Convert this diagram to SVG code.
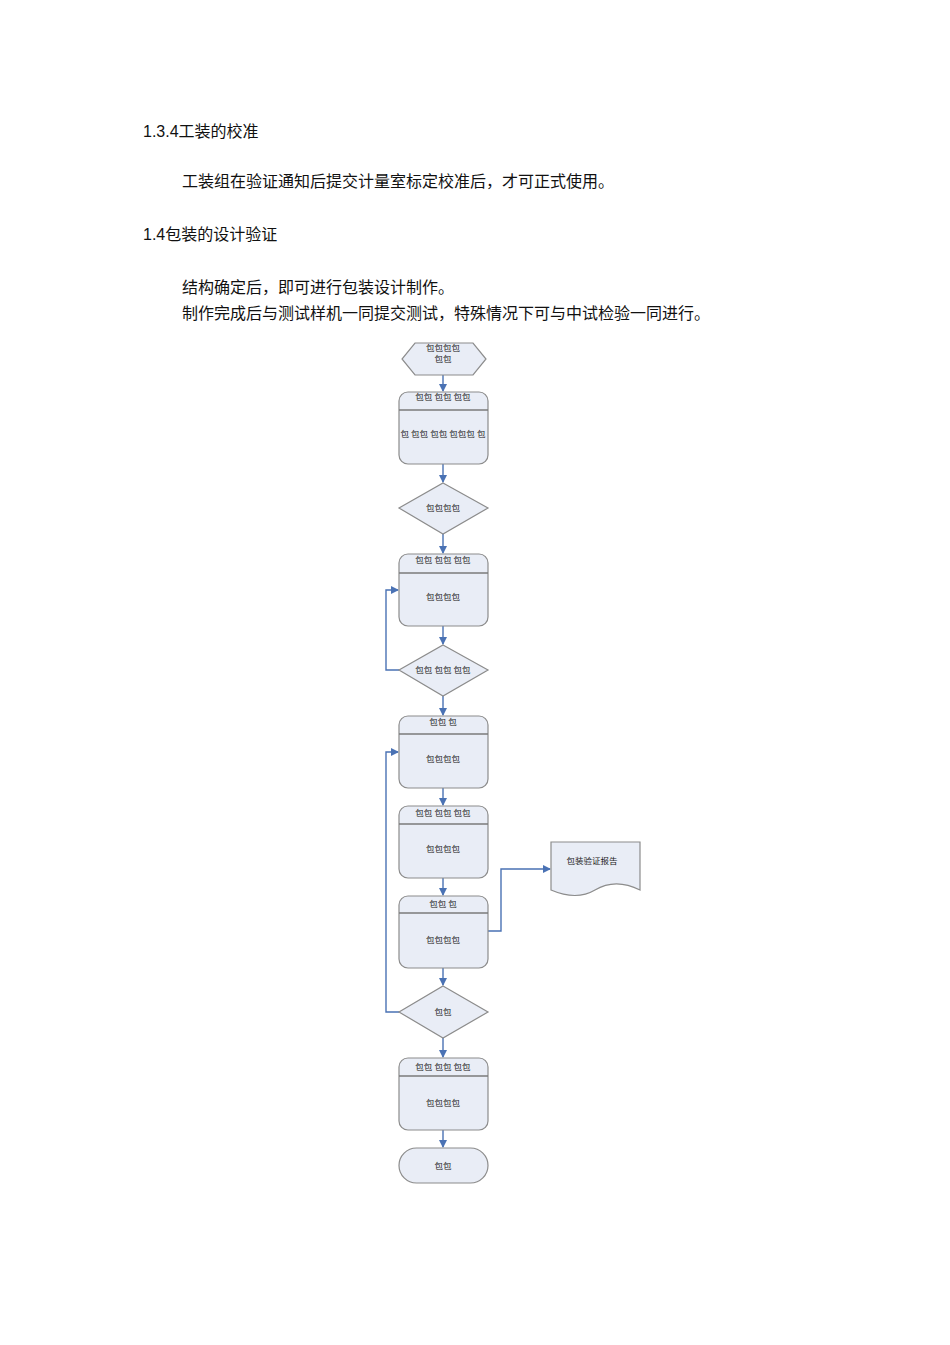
<svg xmlns="http://www.w3.org/2000/svg" width="950" height="1345" viewBox="0 0 950 1345">
<style>
.t{font-family:"Liberation Sans","Noto Sans CJK SC",sans-serif;font-size:16px;fill:#111}
.s{font-family:"Liberation Serif","Noto Sans CJK SC",serif;font-size:8.5px;fill:#222;text-anchor:middle}
.n{fill:#e9edf6;stroke:#8c8c8c;stroke-width:1.2}
.l{stroke:#7a7a7a;stroke-width:1.5}
.c{fill:none;stroke:#4a72b4;stroke-width:1.4;marker-end:url(#a)}
</style>
<defs><marker id="a" markerWidth="8" markerHeight="8" refX="7" refY="4" orient="auto" markerUnits="userSpaceOnUse"><path d="M0,0 L8,4 L0,8 z" fill="#4a72b4"/></marker></defs>
<rect width="950" height="1345" fill="#fff"/>
<text class="t" x="143" y="137">1.3.4工装的校准</text>
<text class="t" x="182" y="187">工装组在验证通知后提交计量室标定校准后，才可正式使用。</text>
<text class="t" x="143" y="240">1.4包装的设计验证</text>
<text class="t" x="182" y="293">结构确定后，即可进行包装设计制作。</text>
<text class="t" x="182" y="319">制作完成后与测试样机一同提交测试，特殊情况下可与中试检验一同进行。</text>
<g id="connectors">
<path class="c" d="M443,375 V391"/>
<path class="c" d="M443,464 V482"/>
<path class="c" d="M443,534 V553"/>
<path class="c" d="M443,626 V644"/>
<path class="c" d="M443,696 V715"/>
<path class="c" d="M443,788 V805"/>
<path class="c" d="M443,878 V895"/>
<path class="c" d="M443,968 V985"/>
<path class="c" d="M443,1038 V1057"/>
<path class="c" d="M443,1130 V1147"/>
<path class="c" d="M399,670 H386 V590 H398"/>
<path class="c" d="M399,1012 H386 V752 H398"/>
<path class="c" d="M488,931 H501 V869 H550"/>
</g>
<g id="start"><polygon class="n" points="415,343 473,343 486,359 473,375 415,375 402,359"/><text class="s" x="443" y="351">包包包包</text><text class="s" x="443" y="362">包包</text></g>
<g id="b1"><rect class="n" x="399" y="392" width="89" height="72" rx="9"/><line class="l" x1="399" y1="410" x2="488" y2="410"/><text class="s" x="443" y="400">包包 包包 包包</text><text class="s" x="443" y="437">包 包包 包包 包包包 包</text></g>
<g id="d1"><polygon class="n" points="443,483 488,508 443,534 399,508"/><text class="s" x="443" y="511">包包包包</text></g>
<g id="b2"><rect class="n" x="399" y="554" width="89" height="72" rx="9"/><line class="l" x1="399" y1="573" x2="488" y2="573"/><text class="s" x="443" y="563">包包 包包 包包</text><text class="s" x="443" y="600">包包包包</text></g>
<g id="d2"><polygon class="n" points="443,645 488,670 443,696 399,670"/><text class="s" x="443" y="673">包包 包包 包包</text></g>
<g id="b3"><rect class="n" x="399" y="716" width="89" height="72" rx="9"/><line class="l" x1="399" y1="734" x2="488" y2="734"/><text class="s" x="443" y="725">包包 包</text><text class="s" x="443" y="762">包包包包</text></g>
<g id="b4"><rect class="n" x="399" y="806" width="89" height="72" rx="9"/><line class="l" x1="399" y1="824" x2="488" y2="824"/><text class="s" x="443" y="816">包包 包包 包包</text><text class="s" x="443" y="852">包包包包</text></g>
<g id="b5"><rect class="n" x="399" y="896" width="89" height="72" rx="9"/><line class="l" x1="399" y1="913" x2="488" y2="913"/><text class="s" x="443" y="907">包包 包</text><text class="s" x="443" y="943">包包包包</text></g>
<g id="doc"><path class="n" d="M551,842 H640 V890 C620,880 605,884 595,890 C580,899 565,896 551,890 Z"/><text class="s" x="592" y="864">包装验证报告</text></g>
<g id="d3"><polygon class="n" points="443,986 488,1012 443,1038 399,1012"/><text class="s" x="443" y="1015">包包</text></g>
<g id="b6"><rect class="n" x="399" y="1058" width="89" height="72" rx="9"/><line class="l" x1="399" y1="1076" x2="488" y2="1076"/><text class="s" x="443" y="1070">包包 包包 包包</text><text class="s" x="443" y="1106">包包包包</text></g>
<g id="end"><rect class="n" x="399" y="1148" width="89" height="35" rx="17.5"/><text class="s" x="443" y="1169">包包</text></g>
</svg>
